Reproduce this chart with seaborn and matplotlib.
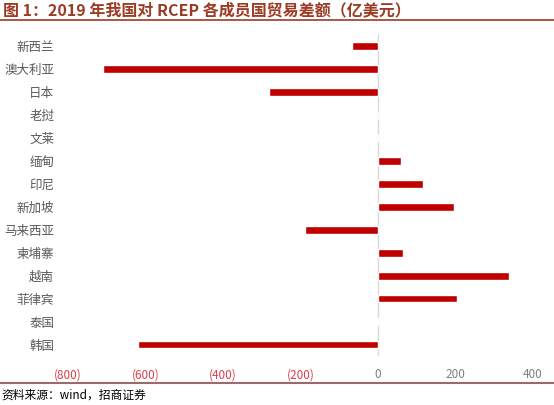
import matplotlib
matplotlib.use("Agg")
import matplotlib.pyplot as plt
import seaborn as sns
import pandas as pd
from matplotlib.lines import Line2D

countries = ["新西兰", "澳大利亚", "日本", "老挝", "文莱", "缅甸", "印尼", "新加坡",
             "马来西亚", "柬埔寨", "越南", "菲律宾", "泰国", "韩国"]
balances = [-66, -710, -281, -1, 0, 60, 116, 196, -188, 65, 337, 204, -2, -620]
x_ticks = [-800, -600, -400, -200, 0, 200, 400]

title = "图 1：2019 年我国对 RCEP 各成员国贸易差额（亿美元）"
source = "资料来源：wind，招商证券"

sns.set_theme(style="white")
plt.rcParams['font.family'] = ['Noto Sans CJK SC', 'DejaVu Sans']

df = pd.DataFrame({"country": countries, "balance": balances})

fig = plt.figure(figsize=(5.54, 4.05), dpi=100)
ax = fig.add_axes([0.1227, 0.121, 0.8394, 0.794])

sns.barplot(data=df, y="country", x="balance", orient="h", color="#C00000",
            saturation=1, width=0.34, ax=ax)

ax.set_xlim(-800, 400)
ax.set_xticks(x_ticks)
labels = [f"({abs(v)})" if v < 0 else f"{v}" for v in x_ticks]
ax.set_xticklabels(labels)
for lab, v in zip(ax.get_xticklabels(), x_ticks):
    lab.set_color("#D8404A" if v < 0 else "#7F7F7F")
    lab.set_fontsize(8.5)
ax.tick_params(axis="x", length=0, pad=9)
ax.tick_params(axis="y", length=0, pad=10, labelsize=9, labelcolor="#595959")
ax.set_xlabel("")
ax.set_ylabel("")
for s in ax.spines.values():
    s.set_visible(False)
ax.axvline(0, color="#D9D9D9", lw=1, zorder=0)

fig.text(0.006, 0.975, title, fontsize=11.5, fontweight="bold", color="#9B3B23",
         ha="left", va="center")
fig.add_artist(Line2D([0, 1], [0.951, 0.951], color="#9B3B23", lw=1.2,
                      transform=fig.transFigure))
fig.add_artist(Line2D([0, 1], [0.055, 0.055], color="#9B6B6B", lw=1.5,
                      transform=fig.transFigure))
fig.text(0.003, 0.024, source, fontsize=8.5, color="#000000", ha="left", va="center")

fig.savefig("out.png", dpi=100)
